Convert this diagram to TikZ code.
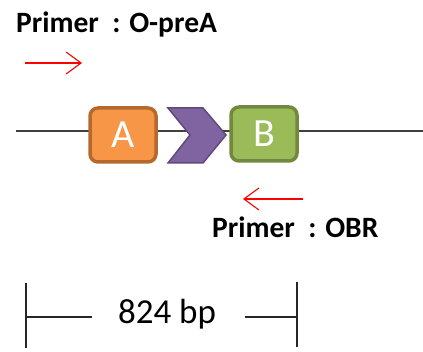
\documentclass[tikz,border=0pt]{standalone}
\usepackage{fontspec}
\setmainfont{Carlito}
\usetikzlibrary{arrows.meta}
\definecolor{orfill}{HTML}{F79646}
\definecolor{ordraw}{HTML}{B46A2F}
\definecolor{grfill}{HTML}{9BBB59}
\definecolor{grdraw}{HTML}{71893F}
\definecolor{pufill}{HTML}{8064A2}
\definecolor{pudraw}{HTML}{5F4A7B}
\definecolor{lineclr}{HTML}{404040}
\tikzset{
  genebox/.style={rounded corners=8pt, line width=3.5pt, minimum width=66pt,
    minimum height=54pt, inner sep=0pt, text=white, font=\fontsize{40}{40}\selectfont},
  primerarrow/.style={draw=red, line width=1.1pt, -{Straight Barb[length=15pt,width=22pt,line width=1.1pt]}},
  primerlabel/.style={font=\bfseries\fontsize{29.5}{29.5}\selectfont, anchor=base west, inner sep=0pt},
  ruler/.style={draw=black!85, line width=2pt}
}
\begin{document}
\begin{tikzpicture}[x=1pt,y=-1pt]
\useasboundingbox (0,0) rectangle (423,352);
% backbone
\coordinate (l0) at (16,131);
\coordinate (l1) at (423,131);
\draw[lineclr, line width=1.8pt] (l0) -- (l1);
% promoter chevron
\filldraw[fill=pufill, draw=pudraw, line width=1.5pt, line join=miter]
  (168,108) -- (203,108) -- (226,135) -- (203,163) -- (168,163) -- (190,135) -- cycle;
% genes
\node[genebox, fill=orfill, draw=ordraw] (A) at (123,135) {A};
\node[genebox, fill=grfill, draw=grdraw] (B) at (264,134) {B};
% primers
\node[primerlabel] (p1) at (16,33) {Primer\ \ : O-preA};
\coordinate (f0) at (25,63);
\coordinate (f1) at (82,63);
\draw[primerarrow] (f0) -- (f1);
\coordinate (r0) at (303,199);
\coordinate (r1) at (243,199);
\draw[primerarrow] (r0) -- (r1);
\node[primerlabel] (p2) at (212,238) {Primer\ \ : OBR};
% product length
\coordinate (t0) at (26,283);
\coordinate (t1) at (26,348);
\coordinate (t2) at (297,282);
\coordinate (t3) at (297,347);
\node[font=\fontsize{35}{35}\selectfont, inner sep=0pt] (bp) at (167,314) {824 bp};
\draw[ruler] (t0) -- (t1);
\draw[ruler] (t2) -- (t3);
\draw[ruler] (26,317) -- (92,317);
\draw[ruler] (245,317) -- (297,317);
\end{tikzpicture}
\end{document}
